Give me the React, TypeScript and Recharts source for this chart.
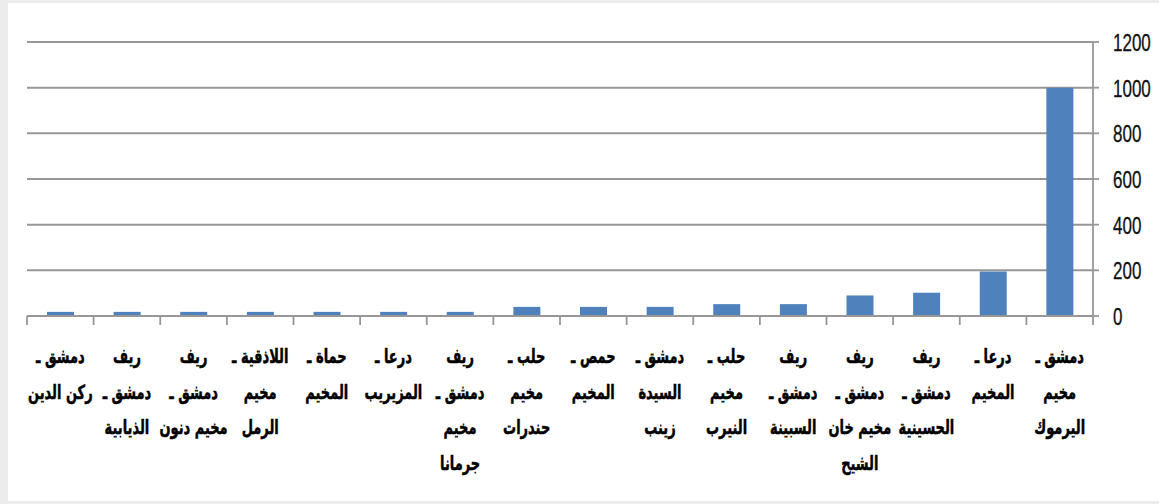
import React from "react";
import { BarChart, Bar, XAxis, YAxis, CartesianGrid } from "recharts";

const categories: string[] = [
  "دمشق ـ\nركن الدين",
  "ريف\nدمشق ـ\nالذيابية",
  "ريف\nدمشق ـ\nمخيم دنون",
  "اللاذقية ـ\nمخيم\nالرمل",
  "حماة ـ\nالمخيم",
  "درعا ـ\nالمزيريب",
  "ريف\nدمشق ـ\nمخيم\nجرمانا",
  "حلب ـ\nمخيم\nحندرات",
  "حمص ـ\nالمخيم",
  "دمشق ـ\nالسيدة\nزينب",
  "حلب ـ\nمخيم\nالنيرب",
  "ريف\nدمشق ـ\nالسبينة",
  "ريف\nدمشق ـ\nمخيم خان\nالشيح",
  "ريف\nدمشق ـ\nالحسينية",
  "درعا ـ\nالمخيم",
  "دمشق ـ\nمخيم\nاليرموك",
];

const values: number[] = [18, 18, 18, 18, 18, 18, 18, 40, 40, 40, 52, 52, 90, 102, 195, 1000];

const yTicks: number[] = [0, 200, 400, 600, 800, 1000, 1200];

const data = categories.map((name, i) => ({ name, value: values[i] }));

const GRID = "#979797";

const XTick = (props: any) => {
  const { x, y, payload, index } = props;
  const lines = String(payload.value).split("\n");
  const half = payload && payload.offset ? payload.offset : 33.28;
  const isLast = index === categories.length - 1;
  return (
    <g>
      <line x1={x - half} y1={y} x2={x - half} y2={y + 9} stroke={GRID} strokeWidth={1.8} />
      {isLast && (
        <line x1={x + half} y1={y} x2={x + half} y2={y + 9} stroke={GRID} strokeWidth={1.8} />
      )}
      {lines.map((l, i) => (
        <text
          key={i}
          transform={`translate(${x},${y + 47 + i * 35.5}) scale(1,1.5)`}
          textAnchor="middle"
          direction="rtl"
          fontFamily="'DejaVu Sans', 'Noto Sans', sans-serif"
          fontWeight="bold"
          fontSize={13}
          fill="#000"
          stroke="#000"
          strokeWidth={0.35}
        >
          {l}
        </text>
      ))}
    </g>
  );
};

const YTick = (props: any) => {
  const { x, y, payload } = props;
  return (
    <text
      transform={`translate(${x},${y + 9}) scale(1,1.45)`}
      textAnchor="start"
      fontFamily="'Liberation Sans Narrow', 'Liberation Sans', Arial, sans-serif"
      fontSize={17}
      fill="#111"
      stroke="#111"
      strokeWidth={0.2}
    >
      {payload.value}
    </text>
  );
};

export default function App() {
  return (
    <div style={{ position: "absolute", left: 0, top: 0, width: 1159, height: 504, background: "#ececec", overflow: "hidden" }}>
      <div style={{ position: "absolute", left: 8, top: 3, width: 1151, height: 498, background: "#fff" }} />
      <div style={{ position: "absolute", left: 0, top: 0 }}>
        <BarChart
          width={1159}
          height={504}
          data={data}
          margin={{ top: 42, right: 0, left: 27, bottom: 0 }}
          barSize={27}
        >
          <CartesianGrid horizontal vertical={false} stroke={GRID} strokeWidth={2} />
          <XAxis
            dataKey="name"
            interval={0}
            height={188}
            tickLine={false}
            tickSize={0}
            tickMargin={0}
            axisLine={{ stroke: GRID, strokeWidth: 2 }}
            tick={<XTick />}
          />
          <YAxis
            orientation="right"
            width={66}
            domain={[0, 1200]}
            ticks={yTicks}
            interval={0}
            tickSize={6}
            tickMargin={14}
            axisLine={{ stroke: GRID, strokeWidth: 1.8 }}
            tickLine={{ stroke: GRID, strokeWidth: 1.8 }}
            tick={<YTick />}
          />
          <Bar dataKey="value" fill="#4F81BD" isAnimationActive={false} />
        </BarChart>
      </div>
    </div>
  );
}
